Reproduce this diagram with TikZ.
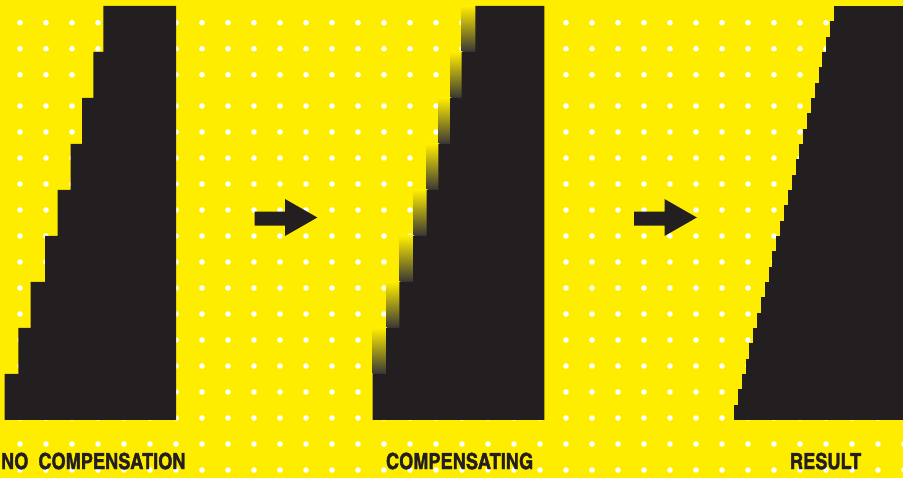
\documentclass[tikz,border=0pt]{standalone}
\usepackage{fontspec}
\newfontfamily\condfont[FakeBold=1.6]{texgyreheroscn-bold.otf}
\definecolor{yel}{HTML}{FFED00}
\definecolor{ink}{HTML}{231F20}
\definecolor{midtone}{RGB}{160,158,120}
\definecolor{darktone}{RGB}{55,53,53}
\begin{document}
\begin{tikzpicture}[x=1pt,y=-1pt,
  dotmark/.style={fill=white},
  inkfill/.style={fill=ink},
  gradcol/.style={top color=yel, middle color=midtone, bottom color=darktone},
  captxt/.style={anchor=base west, inner sep=0pt, outer sep=0pt, text=ink,
    font=\condfont\fontsize{22.2}{22.2}\selectfont}]
\useasboundingbox (0,0) rectangle (903,478);
\fill[yel] (0,0) rectangle (903,478);
% dot grid
\foreach \yy in {-3.3,22.7,48.7,74.7,106,132,...,470}
  \foreach \xx in {20,46,...,904}
    \fill[dotmark] (\xx,\yy) circle[radius=2.8];
% panel 1: no compensation
\fill[inkfill] (176,6) -- (176,420) -- (4.7,420) -- (4.7,374) -- (18.3,374) -- (18.3,328)
  -- (30.7,328) -- (30.7,282) -- (45,282) -- (45,236) -- (57.7,236) -- (57.7,190)
  -- (70.7,190) -- (70.7,144) -- (82,144) -- (82,98) -- (93.3,98) -- (93.3,52)
  -- (103.3,52) -- (103.3,6) -- cycle;
% panel 2: compensating
\foreach \a/\b/\t in {461.7/475.3/6, 450/461.7/52, 438.3/450/98, 426.7/438.3/144,
    413/426.7/190, 399.3/413/236, 386/399.3/282, 372.7/386/328}
  \shade[gradcol] (\a,\t) rectangle (\b+1,\t+46);
\fill[inkfill] (544.3,6) -- (544.3,420) -- (372.7,420) -- (372.7,374) -- (386,374) -- (386,328)
  -- (399.3,328) -- (399.3,282) -- (413,282) -- (413,236) -- (426.7,236) -- (426.7,190)
  -- (438.3,190) -- (438.3,144) -- (450,144) -- (450,98) -- (461.7,98) -- (461.7,52)
  -- (475.3,52) -- (475.3,6) -- cycle;
% panel 3: result
\foreach \i in {0,...,26}
  \fill[inkfill] ({834-100*\i/26},{6+414*\i/27}) rectangle (904,{min(420,6+414*(\i+1)/27+0.6)});
% arrows
\foreach \s in {0,379.5}
  \fill[inkfill] (254.7+\s,211.7) -- (285+\s,211.7) -- (285+\s,199) -- (317.3+\s,217.5)
    -- (285+\s,236) -- (285+\s,225.7) -- (254.7+\s,225.7) -- cycle;
% captions
\node[captxt] (cap1) at (1,469) {NO\hspace{10pt}COMPENSATION};
\node[captxt] (cap2) at (386,469) {COMPENSATING};
\node[captxt] (cap3) at (790,469) {RESULT};
\end{tikzpicture}
\end{document}
